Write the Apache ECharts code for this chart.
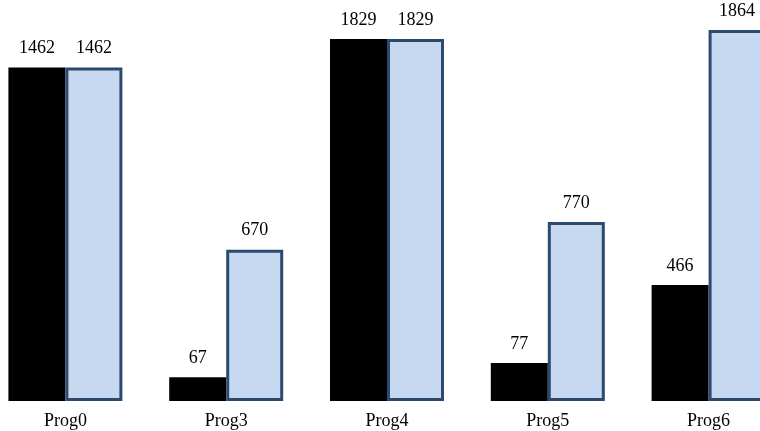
<!DOCTYPE html>
<html><head><meta charset="utf-8">
<script src="https://cdn.jsdelivr.net/npm/echarts@6/dist/echarts.min.js"></script>
<style>html,body{margin:0;padding:0;background:#fff}#c{width:760px;height:431px}</style>
</head><body><div id="c"></div>
<script>
const categories = ['Prog0', 'Prog3', 'Prog4', 'Prog5', 'Prog6'];
// bar heights as drawn in the picture (axis units, axis top = 1864)
const blackHeights = [1675, 119, 1819, 191, 583];
const blueHeights = [1675, 760, 1819, 899, 1864];
// values printed above the bars
const blackLabels = [1462, 67, 1829, 77, 466];
const blueLabels = [1462, 670, 1829, 770, 1864];
const axisMax = 1864;

const font = "'Liberation Serif', 'Times New Roman', serif";
const chart = echarts.init(document.getElementById('c'), null, {renderer: 'canvas'});
chart.setOption({
  animation: false,
  backgroundColor: '#ffffff',
  grid: {left: -15, right: -29, top: 30, bottom: 30, containLabel: false, outerBoundsMode: 'none'},
  xAxis: {
    type: 'category', data: categories,
    axisLine: {show: false}, axisTick: {show: false}, splitLine: {show: false},
    axisLabel: {color: '#000', fontFamily: font, fontSize: 18, margin: 11}
  },
  yAxis: {type: 'value', min: 0, max: axisMax, show: false, splitLine: {show: false}},
  series: [
    {
      type: 'bar', data: blackHeights, barWidth: 57, barGap: '0%',
      itemStyle: {color: '#000000'},
      label: {show: true, position: 'top', distance: 10, color: '#000', fontFamily: font, fontSize: 18,
        formatter: p => String(blackLabels[p.dataIndex])}
    },
    {
      type: 'bar', data: blueHeights, barWidth: 57, barGap: '0%',
      itemStyle: {color: '#c6d9f1', borderColor: '#2c4a6e', borderWidth: 3},
      label: {show: true, position: 'top', distance: 10, color: '#000', fontFamily: font, fontSize: 18,
        formatter: p => String(blueLabels[p.dataIndex])}
    }
  ]
});
</script></body></html>
